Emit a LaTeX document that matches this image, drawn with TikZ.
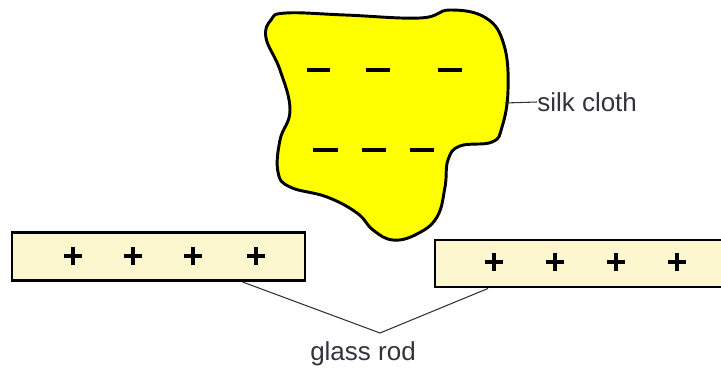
\documentclass[tikz,border=0pt]{standalone}
\usepackage{fontspec}
\setmainfont{Liberation Sans}
\usetikzlibrary{calc}
\definecolor{rodfill}{HTML}{FCF7CF}
\definecolor{labelgray}{HTML}{33333D}
\definecolor{clothyellow}{HTML}{FFFF00}
\tikzset{
  rod/.style={draw=black, line width=2.2pt, fill=rodfill, rectangle, inner sep=0pt},
  plusmark/.style={line width=3pt},
  minusmark/.style={line width=2.6pt},
  leader/.style={draw=black!80, line width=0.8pt},
  lbl/.style={text=labelgray, font=\fontsize{19.5}{21}\selectfont, inner sep=0pt}
}
\begin{document}
\begin{tikzpicture}[x=0.75pt,y=-0.75pt]
\useasboundingbox (0,0) rectangle (721,370);
% silk cloth blob
\draw[line width=2.2pt, fill=clothyellow] plot[smooth cycle, tension=0.7] coordinates {
 (286,13) (345,15) (420,18) (450,10) (486,18) (504,45) (508,90) (502,127)
 (492,142) (460,146) (448,160) (445,187) (437,217) (417,234) (393,240) (373,230)
 (357,213) (327,197) (290,187) (278,172) (280,140) (290,110) (280,70) (266,38) (271,20)};
% minus signs
\foreach \a/\b/\y in {307/330/70, 366/390/70, 438/462/70, 313/338/150, 362/386/150, 410/434/150}
  \draw[minusmark] (\a,\y) -- (\b,\y);
% rods
\node[rod, minimum width=219.75pt, minimum height=36pt] (lrod) at (158.5,256.5) {};
\node[rod, minimum width=228.75pt, minimum height=35.25pt] (rrod) at (587.5,263.5) {};
% plus signs
\foreach \x in {73,133,193,256}
  \draw[plusmark] (\x-9,256) -- (\x+9,256) (\x,247) -- (\x,265);
\foreach \x in {494,555,616,677}
  \draw[plusmark] (\x-9,262) -- (\x+9,262) (\x,253) -- (\x,271);
% labels
\node[lbl, anchor=west] (silk) at (537,102) {silk cloth};
\coordinate (silkpt) at (505,103);
\draw[leader] (silkpt) -- (silk.west);
\node[lbl] (glass) at (363,354) {glass rod};
\coordinate (gjoin) at (380,333);
\draw[leader] ([xshift=63pt]lrod.south) -- (gjoin) -- ([xshift=-74.6pt]rrod.south);
\end{tikzpicture}
\end{document}
